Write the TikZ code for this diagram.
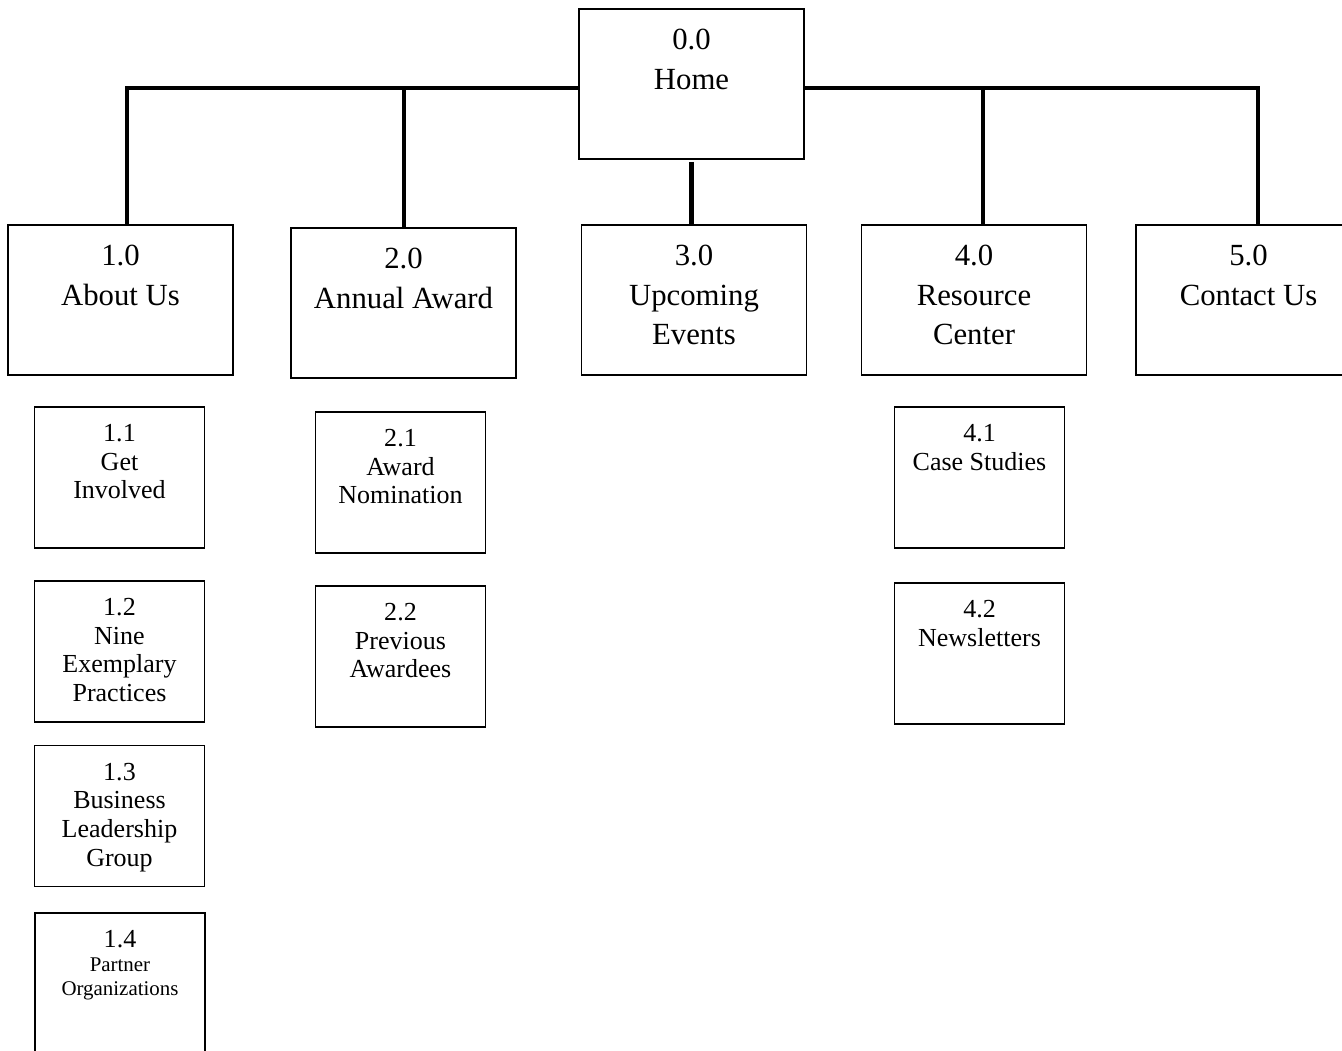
\documentclass[tikz,border=0pt]{standalone}
\usepackage{fontspec}
\setmainfont{Liberation Serif}
\usetikzlibrary{positioning}
\newcommand{\partfont}{\fontsize{11.9}{13.6}\selectfont}

\begin{document}
\begin{tikzpicture}[x=0.2mm,y=-0.2mm,
        topbox/.style={draw,line width=1.1pt,minimum width=4.5cm,minimum height=3cm},%main pages
        subbox/.style={draw,line width=1.1pt,minimum width=3.4cm,minimum height=2.82cm},%sub pages
        toptext/.style={align=center,inner sep=0pt,font=\fontsize{17.5}{22.3}\selectfont},
        subtext/.style={align=center,inner sep=0pt,font=\fontsize{14.8}{16.3}\selectfont},
        bar/.style={line width=2.8pt,line join=miter}
        ]
\useasboundingbox (0,0) rectangle (1342,1050);
\clip (0,0) rectangle (1342,1050);
% top level
\node[topbox] (home)     at (691.5,84)  {};
\node[topbox] (about)    at (120.5,300) {};
\node[topbox] (award)    at (403.5,303) {};
\node[topbox] (events)   at (694,300)   {};
\node[topbox] (resource) at (974,300)   {};
\node[topbox] (contact)  at (1248.5,300) {};
\node[toptext,below=4.2mm of home.north]     (home-t)     {0.0\\Home};
\node[toptext,below=4.2mm of about.north]    (about-t)    {1.0\\About Us};
\node[toptext,below=4.2mm of award.north]    (award-t)    {2.0\\Annual Award};
\node[toptext,below=4.2mm of events.north]   (events-t)   {3.0\\Upcoming\\Events};
\node[toptext,below=4.2mm of resource.north] (resource-t) {4.0\\Resource\\Center};
\node[toptext,below=4.2mm of contact.north]  (contact-t)  {5.0\\Contact Us};
% second level
\node[subbox] (involved) at (119.5,477.5) {};
\node[subbox] (nine)     at (119.5,651.5) {};
\node[subbox] (business) at (119.5,816)   {};
\node[subbox] (partner)  at (120,983.5)   {};
\node[subbox] (nominate) at (400.5,482.5) {};
\node[subbox] (previous) at (400.5,656.5) {};
\node[subbox] (cases)    at (979.5,477.5) {};
\node[subbox] (letters)  at (979.5,653.5) {};
\node[subtext,below=3.6mm of involved.north] (involved-t) {1.1\\Get\\Involved};
\node[subtext,below=3.6mm of nine.north]     (nine-t)     {1.2\\Nine\\Exemplary\\Practices};
\node[subtext,below=3.6mm of business.north] (business-t) {1.3\\Business\\Leadership\\Group};
\node[subtext,below=3.6mm of partner.north]  (partner-t)  {1.4\\[-2.7pt]\partfont Partner\\[-2.7pt]\partfont Organizations};
\node[subtext,below=3.6mm of nominate.north] (nominate-t) {2.1\\Award\\Nomination};
\node[subtext,below=3.6mm of previous.north] (previous-t) {2.2\\Previous\\Awardees};
\node[subtext,below=3.6mm of cases.north]    (cases-t)    {4.1\\Case Studies};
\node[subtext,below=3.6mm of letters.north]  (letters-t)  {4.2\\Newsletters};
% connectors
\coordinate (j1) at (127,88);
\coordinate (j2) at (404,88);
\coordinate (j4) at (983,88);
\coordinate (j5) at (1258,88);
\draw[bar] (j1 |- about.north) -- (j1) -- (j1 -| home.west);
\draw[bar] (j2 |- award.north) -- (j2);
\draw[bar] (j5 |- contact.north) -- (j5) -- (j5 -| home.east);
\draw[bar] (j4 |- resource.north) -- (j4);
\draw[bar] ([yshift=-0.4mm]home.south) -- (home.south |- events.north);
\end{tikzpicture}
\end{document}
